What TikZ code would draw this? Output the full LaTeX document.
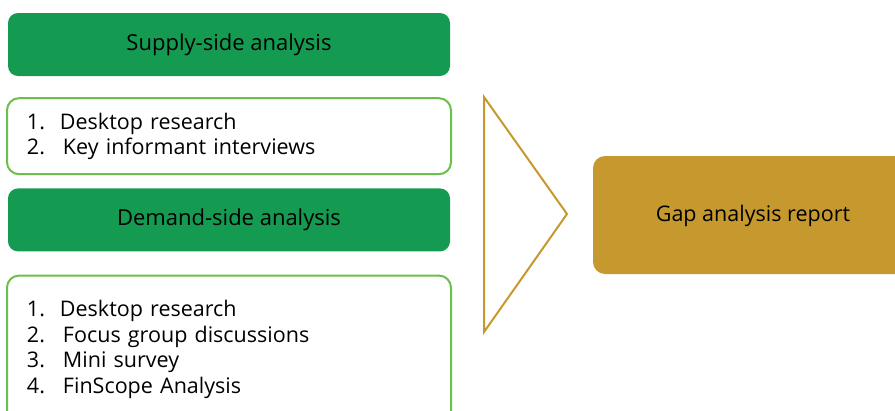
\documentclass[tikz,border=0pt]{standalone}
\usepackage{fontspec}
\setmainfont{Open Sans}
\usetikzlibrary{positioning}
\definecolor{headgreen}{HTML}{159A52}
\definecolor{listgreen}{HTML}{6CBF4A}
\definecolor{reportgold}{HTML}{C6992E}
\newcommand{\Item}[3][36pt]{\makebox[#1][l]{#2}#3}
\tikzset{
    head/.style={rectangle, rounded corners=10pt, fill=headgreen, minimum width=442pt, minimum height=63pt, font=\fontsize{22}{26}\selectfont},
    listbox/.style={rectangle, rounded corners=12pt, draw=listgreen, line width=2pt, fill=white, minimum width=444pt, inner xsep=20pt, text width=404pt, align=left, font=\fontsize{21.5}{25.5}\selectfont},
    report/.style={rectangle, rounded corners=12pt, fill=reportgold, minimum width=320pt, minimum height=118pt, font=\fontsize{21.5}{26}\selectfont},
}

\begin{document}
\begin{tikzpicture}[x=1pt, y=-1pt]
    \useasboundingbox (0,0) rectangle (895,410);

    \node[head] (supply) at (229,44.5) {Supply-side analysis};
    \node[listbox, minimum height=76pt, below=21pt of supply] (supplylist) {%
      \Item[33pt]{1.}{Desktop research}\\
      \Item{2.}{Key informant interviews}\\[-5pt]};

    \node[head, below=13pt of supplylist] (demand) {Demand-side analysis};
    \node[listbox, minimum height=148pt, below=23pt of demand] (demandlist) {%
      \Item[33pt]{1.}{Desktop research}\\
      \Item{2.}{Focus group discussions}\\
      \Item{3.}{Mini survey}\\
      \Item{4.}{FinScope Analysis}};

    % chevron pointing at the report
    \coordinate (tiptop) at (484,97);
    \coordinate (tip) at (567,214);
    \coordinate (tipbottom) at (484,332);
    \draw[reportgold, line width=2pt] (tiptop) -- (tip) -- (tipbottom) -- cycle;

    \node[report, text depth=3pt] (gap) at (753,215) {Gap analysis report};
\end{tikzpicture}
\end{document}
